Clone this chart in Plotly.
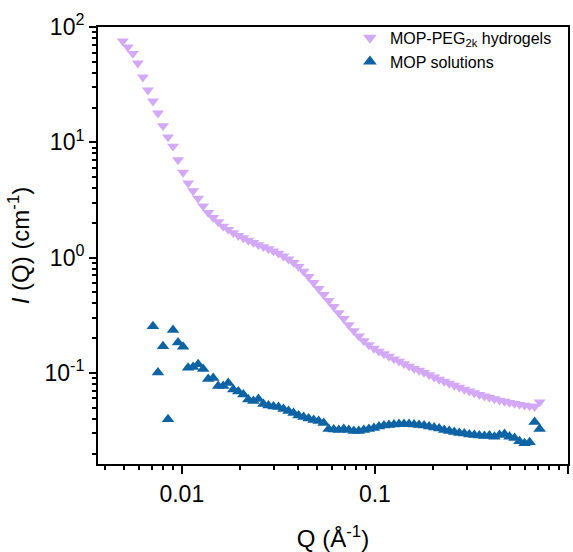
import plotly.graph_objects as go

# Scattering vector Q (1/Å), shared grid
q = [0.004946, 0.005252, 0.005576, 0.005921, 0.006287, 0.006676, 0.007089, 0.007525,
     0.007991, 0.008484, 0.009006, 0.009559, 0.01015, 0.01078, 0.01144, 0.01215,
     0.01290, 0.01370, 0.01454, 0.01544, 0.01639, 0.01740, 0.01848, 0.01962,
     0.02083, 0.02211, 0.02348, 0.02493, 0.02646, 0.02810, 0.02983, 0.03167,
     0.03362, 0.03570, 0.03790, 0.04024, 0.04272, 0.04536, 0.04816, 0.05113,
     0.05429, 0.05764, 0.06119, 0.06497, 0.06898, 0.07323, 0.07775, 0.08255,
     0.08764, 0.09305, 0.09880, 0.1049, 0.1114, 0.1182, 0.1255, 0.1333,
     0.1415, 0.1502, 0.1595, 0.1693, 0.1798, 0.1909, 0.2027, 0.2152,
     0.2285, 0.2426, 0.2576, 0.2735, 0.2903, 0.3083, 0.3273, 0.3475,
     0.3690, 0.3917, 0.4159, 0.4416, 0.4688, 0.4977, 0.5284, 0.5610,
     0.5957, 0.6325, 0.6715, 0.7129]

# MOP-PEG2k hydrogels, I(Q) in 1/cm
i_gel = [75.6, 67.0, 58.8, 48.6, 36.7, 28.3, 22.7, 17.9, 13.9, 11.1,
         9.23, 7.04, 5.48, 4.43, 3.79, 3.26, 2.80, 2.45, 2.22, 2.04,
         1.87, 1.75, 1.64, 1.55, 1.48, 1.41, 1.35, 1.29, 1.24, 1.19,
         1.14, 1.09, 1.03, 0.97, 0.905, 0.835, 0.760, 0.684, 0.606, 0.538,
         0.477, 0.423, 0.375, 0.332, 0.295, 0.261, 0.232, 0.208, 0.190, 0.175,
         0.163, 0.154, 0.146, 0.139, 0.132, 0.126, 0.120, 0.114, 0.109, 0.105,
         0.1006, 0.0961, 0.0917, 0.0878, 0.0844, 0.0810, 0.0778, 0.0748, 0.0719, 0.0695,
         0.0670, 0.0648, 0.0629, 0.0611, 0.0594, 0.0579, 0.0565, 0.0553, 0.0542, 0.0532,
         0.0524, 0.0516, 0.0510, 0.0559]

# MOP solutions (starts at the 7th Q point)
q_sol = q[6:]
i_sol = [0.2537, 0.1006, 0.1707, 0.0396, 0.2351, 0.1834, 0.1683, 0.1106, 0.1128, 0.1186,
         0.1083, 0.0887, 0.0905, 0.0771, 0.0771, 0.0818, 0.0719, 0.0690, 0.0650, 0.0588,
         0.0571, 0.0594, 0.0538, 0.0522, 0.0511, 0.0506, 0.0486, 0.0467, 0.0449, 0.0427,
         0.0414, 0.0402, 0.0390, 0.0382, 0.0367, 0.0326, 0.0323, 0.0319, 0.0326, 0.0319,
         0.0313, 0.0313, 0.0319, 0.0326, 0.0332, 0.0343, 0.0350, 0.0353, 0.0357, 0.0360,
         0.0360, 0.0360, 0.0357, 0.0353, 0.0350, 0.0343, 0.0336, 0.0329, 0.0319, 0.0313,
         0.0307, 0.0301, 0.0298, 0.0292, 0.0289, 0.0286, 0.0283, 0.0286, 0.0280, 0.0289,
         0.0295, 0.0280, 0.0272, 0.0256, 0.0246, 0.0251, 0.0375, 0.0326]

x_major = [0.01, 0.1, 1]
x_major_text = ["0.01", "0.1", "1"]
x_minor = [0.004, 0.005, 0.006, 0.007, 0.008, 0.009,
           0.02, 0.03, 0.04, 0.05, 0.06, 0.07, 0.08, 0.09,
           0.2, 0.3, 0.4, 0.5, 0.6, 0.7, 0.8, 0.9]
y_major = [0.1, 1, 10, 100]
y_major_text = ["10<sup>-1</sup>", "10<sup>0</sup>", "10<sup>1</sup>", "10<sup>2</sup>"]
y_minor = [m * d for d in [0.01, 0.1, 1, 10] for m in range(2, 10)]

FONT = "Liberation Sans, Arial, sans-serif"
purple = "#D3A9F7"
blue = "#0E63A5"

fig = go.Figure()
fig.add_trace(go.Scatter(x=q, y=i_gel, mode="markers", name="MOP-PEG<sub>2k</sub> hydrogels",
                         marker=dict(symbol="triangle-down", size=10.5, color=purple, line=dict(width=0))))
fig.add_trace(go.Scatter(x=q_sol, y=i_sol, mode="markers", name="MOP solutions",
                         marker=dict(symbol="triangle-up", size=11, color=blue, line=dict(width=0))))

axis_common = dict(showgrid=False, zeroline=False, showline=True, linecolor="black", linewidth=2,
                   mirror=True, ticks="outside", tickwidth=1.5, tickcolor="black",
                   tickfont=dict(family=FONT, size=23, color="black"))

fig.update_xaxes(type="log", range=[-2.434, 0.0], tickmode="array", tickvals=x_major,
                 ticktext=x_major_text, ticklen=8,
                 minor=dict(tickmode="array", tickvals=x_minor, ticks="outside", ticklen=4,
                            tickwidth=1.5, tickcolor="black"),
                 title=dict(text="Q (Å<sup>-1</sup>)", font=dict(family=FONT, size=24, color="black"),
                            standoff=25),
                 **axis_common)
fig.update_yaxes(type="log", range=[-1.79, 2.0], tickmode="array", tickvals=y_major,
                 ticktext=y_major_text, ticklen=7,
                 minor=dict(tickmode="array", tickvals=y_minor, ticks="outside", ticklen=4,
                            tickwidth=1.5, tickcolor="black"),
                 title=dict(text="<i>I</i> (Q) (cm<sup>-1</sup>)", font=dict(family=FONT, size=24, color="black"),
                            standoff=8),
                 **axis_common)

fig.update_layout(
    width=573, height=552,
    margin=dict(l=98, r=5, t=27, b=88, autoexpand=False),
    paper_bgcolor="white", plot_bgcolor="white",
    showlegend=True,
    legend=dict(x=0.536, y=1.014, xanchor="left", yanchor="top", bgcolor="rgba(0,0,0,0)",
                font=dict(family=FONT, size=16, color="black"), itemsizing="constant",
                tracegroupgap=0, itemwidth=30),
)

fig.write_html("out.html")
